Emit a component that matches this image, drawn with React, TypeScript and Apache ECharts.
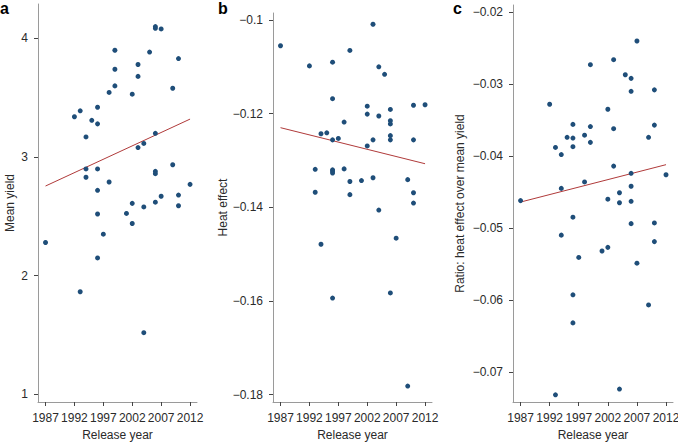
import React, { useEffect, useRef } from "react";
import * as echarts from "echarts";

// Panel a: mean yield
const yearsA = [1987, 1992, 1993, 1993, 1994, 1994, 1994, 1995, 1996, 1996, 1996, 1996, 1996, 1996, 1997, 1998, 1998, 1999, 1999, 1999, 2001, 2002, 2002, 2002, 2003, 2003, 2003, 2004, 2004, 2004, 2005, 2006, 2006, 2006, 2006, 2006, 2006, 2007, 2007, 2009, 2009, 2010, 2010, 2010, 2012];
const yieldA = [2.28, 3.34, 3.39, 1.865, 3.17, 2.9, 2.83, 3.31, 3.42, 3.28, 2.9, 2.72, 2.52, 2.15, 2.35, 3.545, 2.79, 3.9, 3.74, 3.6, 2.525, 3.53, 2.61, 2.44, 3.78, 3.68, 3.08, 3.115, 2.58, 1.52, 3.885, 4.1, 4.085, 3.2, 2.88, 2.86, 2.62, 4.08, 2.67, 3.58, 2.935, 3.83, 2.68, 2.59, 2.77];

// Panel b: heat effect
const yearsB = [1987, 1992, 1993, 1993, 1994, 1994, 1995, 1996, 1996, 1996, 1996, 1996, 1996, 1996, 1997, 1998, 1998, 1999, 1999, 1999, 2001, 2002, 2002, 2002, 2003, 2003, 2003, 2004, 2004, 2004, 2005, 2006, 2006, 2006, 2006, 2006, 2006, 2007, 2007, 2009, 2009, 2010, 2010, 2010, 2010, 2012];
const heatB = [-0.1055, -0.1098, -0.1319, -0.1368, -0.1243, -0.1479, -0.1241, -0.109, -0.1168, -0.1256, -0.132, -0.1323, -0.1327, -0.1594, -0.1253, -0.1218, -0.1318, -0.1065, -0.1345, -0.1373, -0.1343, -0.1184, -0.1201, -0.1269, -0.1009, -0.1256, -0.1337, -0.11, -0.1205, -0.1406, -0.1116, -0.1191, -0.1215, -0.1222, -0.1247, -0.1256, -0.1583, -0.0984, -0.1466, -0.1341, -0.1782, -0.1182, -0.1256, -0.1369, -0.1391, -0.1181];

// Panel c: ratio heat effect over mean yield
const yearsC = [1987, 1992, 1993, 1993, 1994, 1994, 1994, 1995, 1996, 1996, 1996, 1996, 1996, 1996, 1997, 1998, 1998, 1999, 1999, 1999, 2001, 2002, 2002, 2002, 2003, 2003, 2003, 2004, 2004, 2004, 2005, 2006, 2006, 2006, 2006, 2006, 2006, 2007, 2007, 2009, 2009, 2010, 2010, 2010, 2010, 2012];
const ratioC = [-0.0462, -0.0328, -0.0388, -0.0732, -0.0398, -0.0445, -0.051, -0.0374, -0.0356, -0.0375, -0.0387, -0.0485, -0.0593, -0.0632, -0.0541, -0.0371, -0.0436, -0.0273, -0.0359, -0.0381, -0.0532, -0.0335, -0.046, -0.0527, -0.0266, -0.0362, -0.0414, -0.0451, -0.0465, -0.0724, -0.0287, -0.0292, -0.031, -0.0424, -0.0442, -0.0463, -0.0494, -0.024, -0.0549, -0.0374, -0.0607, -0.0308, -0.0357, -0.0493, -0.0519, -0.0426];

// Regression line endpoints
const fitYears = [1987, 2012];
const fitA = [2.756, 3.32];
const fitB = [-0.123, -0.1307];
const fitC = [-0.0464, -0.0412];

const xTicks = [1987, 1992, 1997, 2002, 2007, 2012];
const yTicksA = [1, 2, 3, 4];
const yTicksB = [-0.18, -0.16, -0.14, -0.12, -0.1];
const yTicksC = [-0.07, -0.06, -0.05, -0.04, -0.03, -0.02];

const yAxisNames = ["Mean yield", "Heat effect", "Ratio: heat effect over mean yield"];
const panelLetters = ["a", "b", "c"];

const FONT = "Liberation Sans, Arial, sans-serif";
const AXIS_COLOR = "#9a9a9a";
const TEXT_COLOR = "#2a2a2a";
const POINT_COLOR = "#1f4e79";
const LINE_COLOR = "#b03a3a";

const fmtNum = (v: number) => {
  const r = Math.round(v * 1000) / 1000;
  return r < 0 ? "\u2212" + String(Math.abs(r)) : String(r);
};

export default function App() {
  const ref = useRef<HTMLDivElement>(null);
  useEffect(() => {
    if (!ref.current) return;
    const chart = echarts.init(ref.current, null, { renderer: "svg" });

    const grids = [
      { left: 38, top: 4, width: 159, height: 398, outerBoundsMode: "none", containLabel: false },
      { left: 273, top: 13, width: 159, height: 389, outerBoundsMode: "none", containLabel: false },
      { left: 513, top: 5, width: 160, height: 397, outerBoundsMode: "none", containLabel: false },
    ];
    const yRanges = [
      [0.936, 4.29],
      [-0.1816, -0.0985],
      [-0.0742, -0.019],
    ];
    const yTicks = [yTicksA, yTicksB, yTicksC];
    const nameGaps = [22, 44, 47];

    const xAxes = grids.map((_, i) => ({
      type: "value",
      gridIndex: i,
      min: 1985.7,
      max: 2013.2,
      name: "Release year",
      nameLocation: "middle",
      nameGap: 27,
      nameTextStyle: { fontFamily: FONT, fontSize: 12, color: TEXT_COLOR },
      axisLine: { show: true, lineStyle: { color: AXIS_COLOR, width: 1 } },
      axisTick: { show: true, length: 4, customValues: xTicks, lineStyle: { color: "#444" } },
      axisLabel: {
        customValues: xTicks,
        fontFamily: FONT,
        fontSize: 12,
        color: TEXT_COLOR,
        margin: 10,
        formatter: (v: number) => String(Math.round(v)),
      },
      splitLine: { show: false },
    }));

    const yAxes = grids.map((_, i) => ({
      type: "value",
      gridIndex: i,
      min: yRanges[i][0],
      max: yRanges[i][1],
      name: yAxisNames[i],
      nameLocation: "middle",
      nameGap: nameGaps[i],
      nameTextStyle: { fontFamily: FONT, fontSize: 12, color: TEXT_COLOR },
      axisLine: { show: true, lineStyle: { color: AXIS_COLOR, width: 1 } },
      axisTick: { show: true, length: 4, customValues: yTicks[i], lineStyle: { color: "#444" } },
      axisLabel: {
        customValues: yTicks[i],
        fontFamily: FONT,
        fontSize: 12,
        color: TEXT_COLOR,
        margin: 10,
        formatter: (v: number) => fmtNum(v),
      },
      splitLine: { show: false },
    }));

    const pts = [
      yearsA.map((y, k) => [y, yieldA[k]]),
      yearsB.map((y, k) => [y, heatB[k]]),
      yearsC.map((y, k) => [y, ratioC[k]]),
    ];
    const fits = [fitA, fitB, fitC];

    const series: any[] = [];
    for (let i = 0; i < 3; i++) {
      series.push({
        type: "line",
        xAxisIndex: i,
        yAxisIndex: i,
        data: fitYears.map((y, k) => [y, fits[i][k]]),
        showSymbol: false,
        symbol: "none",
        lineStyle: { color: LINE_COLOR, width: 1 },
        z: 2,
      });
      series.push({
        type: "scatter",
        xAxisIndex: i,
        yAxisIndex: i,
        data: pts[i],
        symbolSize: 5,
        itemStyle: { color: POINT_COLOR, opacity: 1 },
        z: 3,
      });
    }

    const letterX = [0, 218, 453];
    chart.setOption({
      animation: false,
      backgroundColor: "#fff",
      grid: grids,
      xAxis: xAxes,
      yAxis: yAxes,
      series,
      graphic: panelLetters.map((t, i) => ({
        type: "text",
        left: letterX[i],
        top: 0,
        style: { text: t, fontFamily: FONT, fontSize: 16, fontWeight: "bold", fill: "#000" },
      })),
    });
    return () => chart.dispose();
  }, []);
  return (
    <div
      ref={ref}
      style={{ position: "fixed", left: 0, top: 0, width: 678, height: 442 }}
    />
  );
}
